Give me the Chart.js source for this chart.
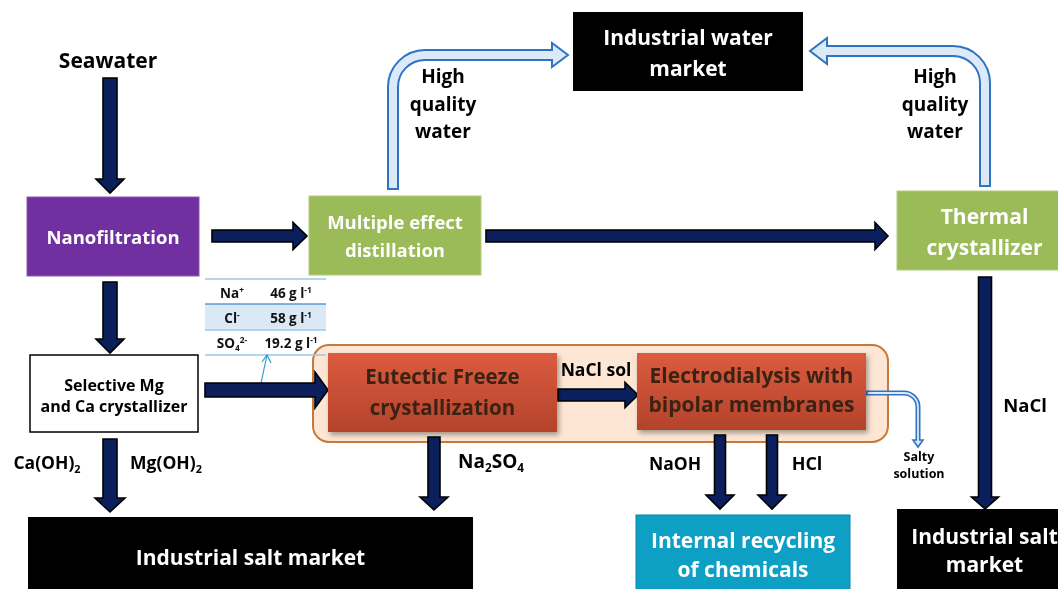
<!DOCTYPE html>
<html><head><meta charset="utf-8">
<script src="https://cdn.jsdelivr.net/npm/chart.js@4.4.1/dist/chart.umd.min.js"></script>
<style>html,body{margin:0;padding:0;background:#fff;overflow:hidden}#wrap{width:1058px;height:589px;position:relative}</style>
</head><body><div id="wrap"><canvas id="c"></canvas></div>
<script>
// ---------------- data ----------------
const processNames = ['Nanofiltration', 'Multiple effect\ndistillation', 'Thermal\ncrystallizer',
  'Selective Mg\nand Ca crystallizer', 'Eutectic Freeze\ncrystallization', 'Electrodialysis with\nbipolar membranes'];
const marketNames = ['Industrial water\nmarket', 'Industrial salt market', 'Internal recycling\nof chemicals', 'Industrial salt\nmarket'];
const streamLabels = ['Seawater', 'High\nquality\nwater', 'High\nquality\nwater', 'NaCl sol', 'NaCl',
  'Ca(OH)_{2}', 'Mg(OH)_{2}', 'Na_{2}SO_{4}', 'NaOH', 'HCl', 'Salty\nsolution'];
const tableIons = ['Na^{+}', 'Cl^{-}', 'SO_{4}^{2-}'];
const tableValues = [46, 58, 19.2];
const tableUnit = 'g l^{-1}';

// ---------------- layout (diagram units) ----------------
const processLayout = [
  {box:[27,197,199,276], fill:'#7030a0', stroke:'#8a5aab', color:'#fff', size:18.5, cy:[237]},
  {box:[309,196,481,275], fill:'#9bbb59', stroke:'#b3cc7f', color:'#fff', size:18.5, cy:[222,250]},
  {box:[897,191,1072,270], fill:'#9bbb59', stroke:'#b3cc7f', color:'#fff', size:21, cy:[216,247]},
  {box:[30,355,198,432], fill:'#fff', stroke:'#000', color:'#000', size:16, cy:[385,406], lw:1.5},
  {box:[328,353,557,432], grad:['#dc5b3f','#b3432b'], color:'#3b2313', size:20.5, cy:[377,408], shadow:true},
  {box:[637,353,866,430], grad:['#dc5b3f','#b3432b'], color:'#3b2313', size:21, cy:[375,404], shadow:true}
];
const marketLayout = [
  {box:[573,12,803,91], fill:'#000', color:'#fff', size:21, cy:[37,68]},
  {box:[28,517,473,600], fill:'#000', color:'#fff', size:21, cy:[557]},
  {box:[636,515,850,600], fill:'#0e9fc4', stroke:'#0b86a8', color:'#fff', size:21, cy:[540,569]},
  {box:[897,509,1072,600], fill:'#000', color:'#fff', size:21, cy:[536,564]}
];
const streamLayout = [
  {x:108, cy:[60], size:21},
  {x:443, cy:[76,104,131], size:19},
  {x:935, cy:[76,104,131], size:19},
  {x:596, cy:[370], size:17.5},
  {x:1025, cy:[405], size:18.5},
  {x:47, cy:[463], size:17.5},
  {x:166, cy:[463], size:17.5},
  {x:491, cy:[461], size:19},
  {x:675, cy:[464], size:17.5},
  {x:807, cy:[464], size:18},
  {x:919, cy:[456,473], size:12.5}
];
const solidArrows = [
  {from:[110,78], to:[110,193], shaft:14, headW:28, headL:14},
  {from:[212,236], to:[307,236], shaft:12, headW:27, headL:14},
  {from:[486,236], to:[888,236], shaft:12, headW:27, headL:13},
  {from:[110,282], to:[110,353], shaft:14, headW:28, headL:14},
  {from:[205,390], to:[328,390], shaft:14, headW:36, headL:13},
  {from:[110,439], to:[110,512], shaft:14, headW:30, headL:14},
  {from:[434,437], to:[434,510], shaft:12, headW:28, headL:13},
  {from:[558,395], to:[638,395], shaft:12, headW:25, headL:13},
  {from:[720,435], to:[720,509], shaft:11, headW:28, headL:14},
  {from:[772,435], to:[772,509], shaft:11, headW:28, headL:14},
  {from:[985,277], to:[985,509], shaft:13, headW:27, headL:12}
];
const hollowArrows = [
  {pts:[[393,190],[393,55],[568,55]], r:32, w:12, b:2, headW:24, headL:16},
  {pts:[[985,187],[985,51],[810,51]], r:32, w:12, b:2, headW:26, headL:17},
  {pts:[[866,393],[918,393],[918,447]], r:14, w:5, b:1.6, headW:10, headL:7}
];
const tableLayout = {x0:205, x1:326, lines:[279,304,330,355], rowCy:[293,318,343], c1:232, c2:291, size:13.5};

// ---------------- drawing plugin ----------------
const FONT = '"Open Sans", Lato, sans-serif';
function parseRich(s){
  const segs=[]; const re=/([_^])\{([^}]*)\}/g; let last=0, m;
  while((m=re.exec(s))){ if(m.index>last) segs.push({t:s.slice(last,m.index),k:0}); segs.push({t:m[2],k:m[1]==='_'?1:-1}); last=re.lastIndex; }
  if(last<s.length) segs.push({t:s.slice(last),k:0});
  return segs;
}
const diagramPlugin = {
  id:'diagram',
  afterDraw(chart){
    const ctx=chart.ctx, sx=chart.scales.x, sy=chart.scales.y;
    const X=v=>sx.getPixelForValue(v), Y=v=>sy.getPixelForValue(v);
    const S=v=>Math.abs(sx.getPixelForValue(v)-sx.getPixelForValue(0));

    function rich(str,cx,cy,size,color){
      const segs=parseRich(str); let w=0;
      segs.forEach(g=>{const fs=g.k?size*0.62:size; ctx.font=`bold ${fs}px ${FONT}`; g.fs=fs; g.w=ctx.measureText(g.t).width; w+=g.w;});
      let x=X(cx)-w/2; const base=Y(cy)+size*0.36;
      ctx.fillStyle=color; ctx.textAlign='left'; ctx.textBaseline='alphabetic';
      segs.forEach(g=>{ctx.font=`bold ${g.fs}px ${FONT}`; const dy=g.k===1?size*0.22:(g.k===-1?-size*0.33:0); ctx.fillText(g.t,x,base+dy); x+=g.w;});
    }
    function lines(text,cx,cys,size,color){ text.split('\n').forEach((t,i)=>rich(t,cx,cys[i],size,color)); }
    function box(L,text){
      const [x0,y0,x1,y1]=L.box; const px=X(x0),py=Y(y0),pw=X(x1)-X(x0),ph=Y(y1)-Y(y0);
      ctx.save();
      if(L.shadow){ctx.shadowColor='rgba(0,0,0,0.35)';ctx.shadowBlur=5;ctx.shadowOffsetX=2;ctx.shadowOffsetY=3;}
      if(L.grad){const g=ctx.createLinearGradient(0,py,0,py+ph); g.addColorStop(0,L.grad[0]); g.addColorStop(1,L.grad[1]); ctx.fillStyle=g;}
      else ctx.fillStyle=L.fill;
      ctx.fillRect(px,py,pw,ph); ctx.restore();
      if(L.stroke){ctx.strokeStyle=L.stroke; ctx.lineWidth=L.lw||1; ctx.strokeRect(px,py,pw,ph);}
      lines(text,(x0+x1)/2,L.cy,L.size,L.color);
    }
    function solid(A){
      const [fx,fy]=[X(A.from[0]),Y(A.from[1])],[tx,ty]=[X(A.to[0]),Y(A.to[1])];
      const len=Math.hypot(tx-fx,ty-fy), dx=(tx-fx)/len, dy=(ty-fy)/len, nx=-dy, ny=dx;
      const sw=S(A.shaft)/2, hw=S(A.headW)/2, hl=S(A.headL), bx=tx-dx*hl, by=ty-dy*hl;
      ctx.beginPath();
      ctx.moveTo(fx+nx*sw,fy+ny*sw); ctx.lineTo(bx+nx*sw,by+ny*sw); ctx.lineTo(bx+nx*hw,by+ny*hw); ctx.lineTo(tx,ty);
      ctx.lineTo(bx-nx*hw,by-ny*hw); ctx.lineTo(bx-nx*sw,by-ny*sw); ctx.lineTo(fx-nx*sw,fy-ny*sw); ctx.closePath();
      ctx.fillStyle='#0a1f5c'; ctx.fill(); ctx.lineWidth=1.6; ctx.lineJoin='miter'; ctx.strokeStyle='#000'; ctx.stroke();
    }
    function hollow(A){
      const p=A.pts.map(q=>[X(q[0]),Y(q[1])]);
      const n=p.length, [ex,ey]=p[n-1], [qx,qy]=p[n-2];
      const len=Math.hypot(ex-qx,ey-qy), dx=(ex-qx)/len, dy=(ey-qy)/len, nx=-dy, ny=dx;
      const hl=S(A.headL), hw=S(A.headW)/2, bx=ex-dx*hl, by=ey-dy*hl;
      const sdx=(p[1][0]-p[0][0]), sdy=(p[1][1]-p[0][1]), sl=Math.hypot(sdx,sdy);
      const path=(startOff,endExt)=>{ctx.beginPath(); ctx.moveTo(p[0][0]+sdx/sl*startOff,p[0][1]+sdy/sl*startOff);
        for(let i=1;i<n-1;i++) ctx.arcTo(p[i][0],p[i][1],p[i+1][0],p[i+1][1],S(A.r));
        ctx.lineTo(bx+dx*endExt,by+dy*endExt);};
      ctx.lineCap='butt'; ctx.lineJoin='round';
      path(0,0); ctx.strokeStyle='#2f73c4'; ctx.lineWidth=S(A.w); ctx.stroke();
      ctx.beginPath(); ctx.moveTo(bx+nx*hw,by+ny*hw); ctx.lineTo(ex,ey); ctx.lineTo(bx-nx*hw,by-ny*hw); ctx.closePath();
      ctx.fillStyle='#dce9f6'; ctx.fill(); ctx.lineJoin='miter'; ctx.lineWidth=S(A.b); ctx.strokeStyle='#2f73c4'; ctx.stroke();
      path(S(A.b),S(A.b)+1); ctx.strokeStyle='#dce9f6'; ctx.lineWidth=S(A.w)-2*S(A.b); ctx.stroke();
    }

    ctx.save();
    {const x0=X(313),y0=Y(345),w=X(888)-x0,h=Y(442)-y0,r=S(16);
     ctx.beginPath(); ctx.roundRect(x0,y0,w,h,r); ctx.fillStyle='#fde6d3'; ctx.fill(); ctx.lineWidth=2; ctx.strokeStyle='#c57a3c'; ctx.stroke();}
    {const T=tableLayout;
     ctx.fillStyle='#dbe8f5'; ctx.fillRect(X(T.x0),Y(T.lines[1]),X(T.x1)-X(T.x0),Y(T.lines[2])-Y(T.lines[1]));
     T.lines.forEach((ly,i)=>{ctx.beginPath(); ctx.moveTo(X(T.x0),Y(ly)); ctx.lineTo(X(T.x1),Y(ly)); ctx.strokeStyle=i===1?'#5b9bd5':'#9dc7e8'; ctx.lineWidth=1.5; ctx.stroke();});
     tableIons.forEach((ion,i)=>{rich(ion,T.c1,T.rowCy[i],T.size,'#111'); rich(tableValues[i]+' '+tableUnit,T.c2,T.rowCy[i],T.size,'#111');});
     ctx.beginPath(); ctx.moveTo(X(260),Y(388)); ctx.lineTo(X(267),Y(355)); ctx.strokeStyle='#2aa0d8'; ctx.lineWidth=1.2; ctx.stroke();
     ctx.beginPath(); ctx.moveTo(X(262),Y(362)); ctx.lineTo(X(267),Y(355)); ctx.lineTo(X(271),Y(363)); ctx.stroke();
    }
    solidArrows.forEach(solid);
    hollowArrows.forEach(hollow);
    processLayout.forEach((L,i)=>box(L,processNames[i]));
    marketLayout.forEach((L,i)=>box(L,marketNames[i]));
    streamLayout.forEach((L,i)=>lines(streamLabels[i],L.x,L.cy,L.size,'#000'));
    ctx.restore();
  }
};

new Chart(document.getElementById('c'), {
  type:'scatter',
  data:{datasets:[{data:[], pointRadius:0}]},
  options:{
    responsive:true, maintainAspectRatio:false, animation:false,
    layout:{padding:0},
    plugins:{legend:{display:false}, tooltip:{enabled:false}},
    scales:{
      x:{type:'linear', min:0, max:1058, display:false},
      y:{type:'linear', min:0, max:589, reverse:true, display:false}
    }
  },
  plugins:[diagramPlugin]
});
</script></body></html>
